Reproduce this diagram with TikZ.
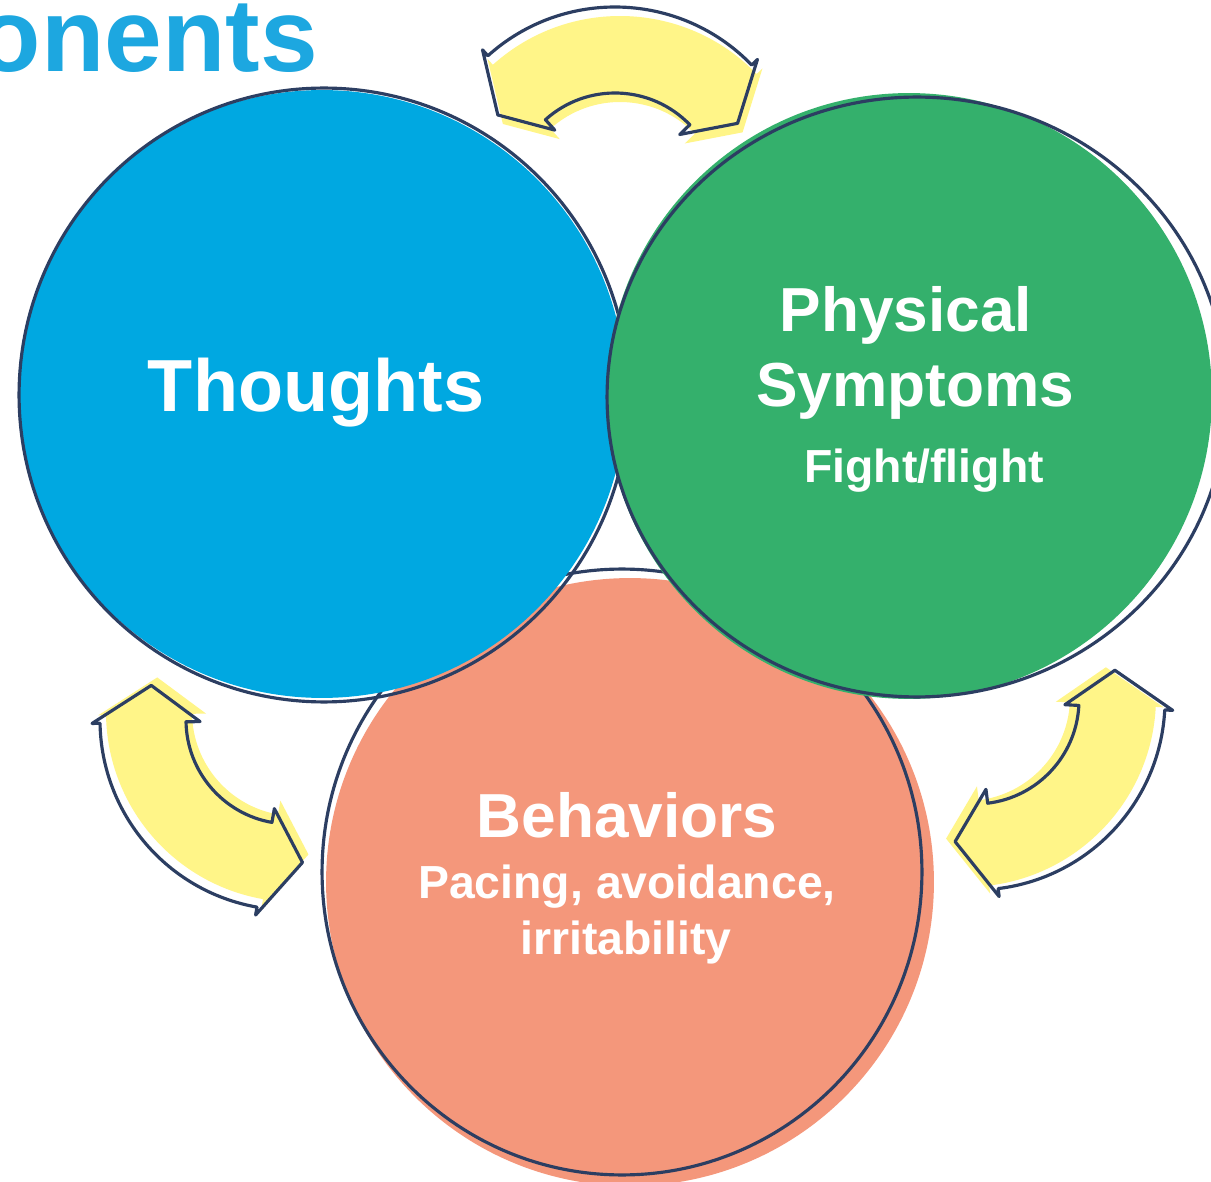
\documentclass[tikz,border=0pt]{standalone}
\usepackage{fontspec}
\setmainfont{Liberation Sans}
\usetikzlibrary{positioning, shapes.geometric}

\definecolor{skyblue}{RGB}{0,168,225}
\definecolor{titleblue}{RGB}{29,167,224}
\definecolor{leafgreen}{RGB}{52,176,108}
\definecolor{salmon}{RGB}{244,151,123}
\definecolor{lemon}{RGB}{255,245,136}
\definecolor{inkline}{RGB}{44,62,98}

% curved two-headed arrow round the origin: #1 options, #2/#3 tip angles, #4 head sweep
\newcommand\bentarrow[4]{%
	\path[#1] ({#2+#4}:190) arc[start angle={#2+#4}, end angle={#3-#4}, radius=190]
		-- ({#3-#4}:198) -- (#3:143) -- ({#3-#4}:90) -- ({#3-#4}:104)
		arc[start angle={#3-#4}, end angle={#2+#4}, radius=104]
		-- ({#2+#4}:90) -- (#2:143) -- ({#2+#4}:198) -- cycle;}

\begin{document}
\begin{tikzpicture}[
		x=0.02cm, y=-0.02cm,
		blob/.style={circle, fill=#1, inner sep=0pt, minimum size=12.16cm},
		ring/.style={ellipse, draw=inkline, line width=1.8pt, inner sep=0pt},
		bigword/.style={text=white, inner sep=0pt, anchor=base, font=\fontsize{42}{42}\selectfont\bfseries},
		heading/.style={text=white, inner sep=0pt, anchor=base, font=\fontsize{35.4}{35.4}\selectfont\bfseries},
		detail/.style={text=white, inner sep=0pt, anchor=base, font=\fontsize{26.4}{26.4}\selectfont\bfseries},
		outline/.style={draw=inkline, line width=1.8pt, line join=round}
		]
		
		\fill[white] (0,0) rectangle (1211,1182);
		\useasboundingbox (0,0) rectangle (1211,1182);
		
		% title, running off the left edge
		\node[anchor=base east, inner sep=0pt, text=titleblue, font=\fontsize{59}{59}\selectfont\bfseries] (title) at (318,72) {onents};
		
		% the three circles, fill and sketchy outline slightly apart
		\node[blob=salmon] (behavfill) at (630,882) {};
		\node[ring, minimum width=12cm, minimum height=12.12cm] (behavring) at (622,872) {};
		\node[blob=skyblue] (thoughtfill) at (322,394) {};
		\node[ring, minimum width=12.2cm, minimum height=12.28cm] (thoughtring) at (324,395) {};
		\node[blob=leafgreen, minimum size=12.12cm] (physfill) at (909,396) {};
		\node[ring, minimum width=12.4cm, minimum height=12cm] (physring) at (917,397) {};
		
		% texts
		\node[bigword] (thoughts) at (316,412) {Thoughts};
		\node[heading] (physical) at (906,332) {Physical};
		\node[heading] (symptoms) at ([shift={(9,75)}]physical.base) {Symptoms};
		\node[detail] (fight) at ([shift={(9,76)}]symptoms.base) {Fight/flight};
		\node[heading] (behaviors) at (627,837) {Behaviors};
		\node[detail] (pacing) at ([shift={(0,61)}]behaviors.base) {Pacing, avoidance,};
		\node[detail] (irritab) at ([shift={(-1,56)}]pacing.base) {irritability};
		
		% arrows between the circles
		\begin{scope}[shift={(615,197)}]
			\bentarrow{fill=lemon, shift={(5,9)}}{-145}{-31}{13}
			\bentarrow{outline}{-145}{-31}{13}
		\end{scope}
		\begin{scope}[shift={(290,720)}]
			\bentarrow{fill=lemon, shift={(6,-8)}}{85}{194}{15}
			\bentarrow{outline}{85}{194}{15}
		\end{scope}
		\begin{scope}[shift={(975,700)}]
			\bentarrow{fill=lemon, shift={(-9,-3)}}{-12}{98}{15}
			\bentarrow{outline}{-12}{98}{15}
		\end{scope}
		
	\end{tikzpicture}
\end{document}
